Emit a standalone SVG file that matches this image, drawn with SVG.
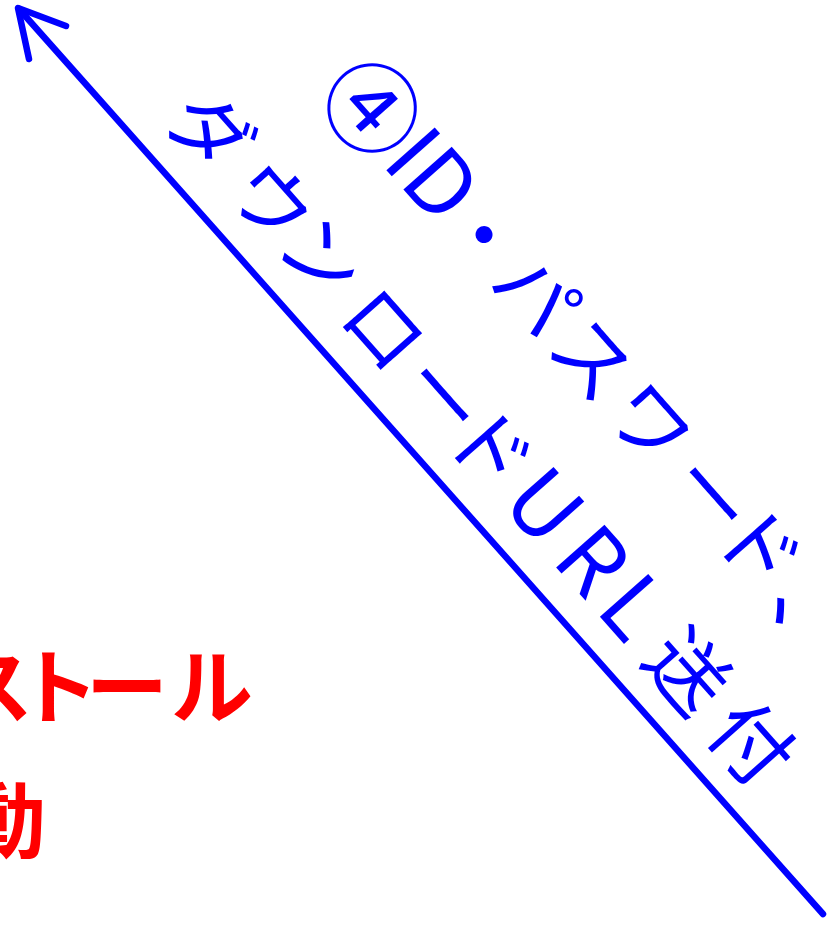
<svg xmlns="http://www.w3.org/2000/svg" width="834" height="932" viewBox="0 0 834 932">
<style>
.blue{font-family:"Noto Sans CJK JP","Noto Sans",sans-serif;font-size:80px;fill:#0000ff;text-anchor:middle}
.lat{font-size:88px}
.circ{font-size:96px}
.red{font-family:"Noto Sans CJK JP","Noto Sans",sans-serif;font-size:82px;font-weight:bold;fill:#ff0000;text-anchor:middle}
.conn{stroke:#0000ff;stroke-width:6.5;fill:none;stroke-linecap:round;stroke-linejoin:round}
</style>
<g id="connectors">
<line class="conn" x1="823" y1="914" x2="19" y2="9"/>
<polyline class="conn" points="66,26 18,8 29,59"/>
</g>
<g id="label-arrow" transform="translate(371,109) rotate(48.5)">
<text class="blue"><tspan class="circ" x="0" y="35">④</tspan><tspan class="lat" x="60" y="29">I</tspan><tspan class="lat" x="103" y="29">D</tspan><tspan x="169" y="29">・</tspan><tspan x="248" y="29">パ</tspan><tspan x="334" y="29">ス</tspan><tspan x="421" y="29">ワ</tspan><tspan x="515" y="29">ー</tspan><tspan x="585" y="29">ド</tspan><tspan x="671" y="33">、</tspan></text>
<text class="blue"><tspan x="-90" y="165">ダ</tspan><tspan x="4" y="165">ウ</tspan><tspan x="79" y="165">ン</tspan><tspan x="173" y="165">ロ</tspan><tspan x="263" y="165">ー</tspan><tspan x="333" y="165">ド</tspan><tspan class="lat" x="412" y="165">U</tspan><tspan class="lat" x="485" y="165">R</tspan><tspan class="lat" x="547" y="165">L</tspan><tspan x="631" y="165">送</tspan><tspan x="727" y="165">付</tspan></text>
</g>
<g id="node-red">
<text class="red"><tspan x="-8" y="717">ス</tspan><tspan x="58" y="717">ト</tspan><tspan x="127" y="717">ー</tspan><tspan x="212" y="717">ル</tspan></text>
<text class="red" x="5" y="851">動</text>
</g>
</svg>
